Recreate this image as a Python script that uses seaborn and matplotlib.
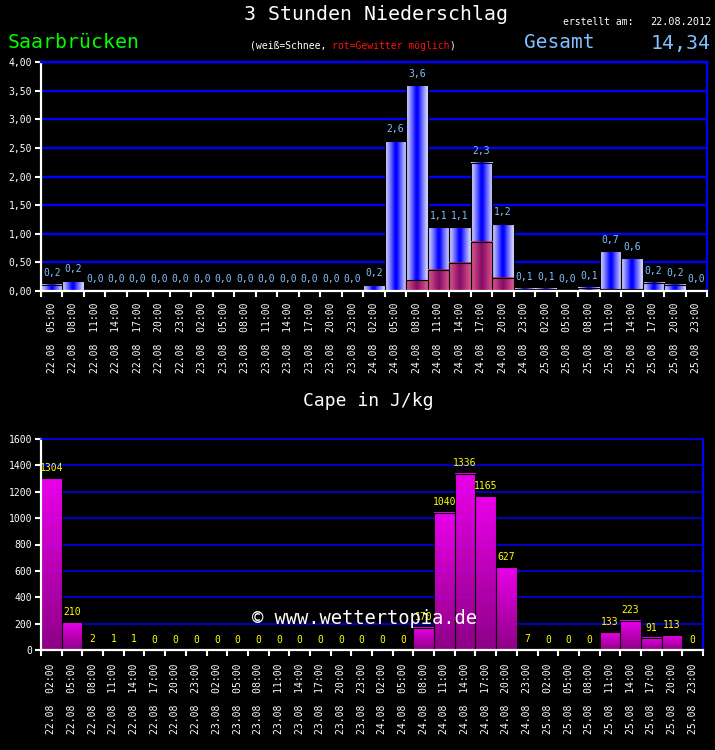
import numpy as np
import pandas as pd
import matplotlib
matplotlib.use("Agg")
import matplotlib.pyplot as plt
import seaborn as sns
from matplotlib.colors import LinearSegmentedColormap

# ---------------- data ----------------
hours = ["02:00", "05:00", "08:00", "11:00", "14:00", "17:00", "20:00", "23:00"]

precip_dates = (["22.08"] * 7 + ["23.08"] * 8 + ["24.08"] * 8 + ["25.08"] * 8)
precip_times = hours[1:] + hours + hours + hours
precip_total = [0.11, 0.17, 0, 0, 0, 0, 0,
                0, 0, 0, 0, 0, 0, 0, 0,
                0.10, 2.62, 3.59, 1.11, 1.11, 2.24, 1.17, 0.04,
                0.04, 0, 0.06, 0.69, 0.57, 0.14, 0.11, 0]
precip_thunder = [0, 0, 0, 0, 0, 0, 0,
                  0, 0, 0, 0, 0, 0, 0, 0,
                  0, 0, 0.19, 0.37, 0.49, 0.86, 0.23, 0,
                  0, 0, 0, 0.03, 0.03, 0, 0, 0]
precip_labels = [0.2, 0.2, 0.0, 0.0, 0.0, 0.0, 0.0,
                 0.0, 0.0, 0.0, 0.0, 0.0, 0.0, 0.0, 0.0,
                 0.2, 2.6, 3.6, 1.1, 1.1, 2.3, 1.2, 0.1,
                 0.1, 0.0, 0.1, 0.7, 0.6, 0.2, 0.2, 0.0]

cape_dates = (["22.08"] * 8 + ["23.08"] * 8 + ["24.08"] * 8 + ["25.08"] * 8)
cape_times = hours + hours + hours + hours
cape_values = [1304, 210, 2, 1, 1, 0, 0, 0,
               0, 0, 0, 0, 0, 0, 0, 0,
               0, 0, 170, 1040, 1336, 1165, 627, 7,
               0, 0, 0, 133, 223, 91, 113, 0]

precip_yticks = [0, 0.5, 1.0, 1.5, 2.0, 2.5, 3.0, 3.5, 4.0]
cape_yticks = [0, 200, 400, 600, 800, 1000, 1200, 1400, 1600]

# ---------------- style ----------------
MONO = "DejaVu Sans Mono"
plt.rcParams["font.family"] = [MONO, "DejaVu Sans"]
LIGHTBLUE = "#80c0ff"

blue_cmap = LinearSegmentedColormap.from_list(
    "b", [(0, "#0000ff"), (0.2, "#0c0cff"), (0.5, "#5a5aff"),
          (0.8, "#a8a8ff"), (1, "#e0e0ff")])
red_cmap = LinearSegmentedColormap.from_list(
    "r", [(0, "#840a64"), (0.35, "#9a1e70"), (0.75, "#c2407e"),
          (1, "#dc5a92")])
mag_cmap = LinearSegmentedColormap.from_list(
    "m", [(0, "#9c0092"), (1, "#ff00ff")])

fig = plt.figure(figsize=(7.15, 7.5), dpi=100, facecolor="black")


def grad_fill(ax, patch, cmap, mode, z, alpha=1.0):
    x0, y0 = patch.get_x(), patch.get_y()
    w, h = patch.get_width(), patch.get_height()
    if h <= 0:
        patch.set_visible(False)
        return
    if mode == "h":
        g = (np.abs(np.linspace(-1, 1, 43)) ** 0.8)[None, :]
    else:
        g = np.linspace(0, 1, 101)[:, None]
    ax.imshow(g, cmap=cmap, extent=(x0, x0 + w, y0, y0 + h), origin="lower",
              aspect="auto", interpolation="bilinear", zorder=z, alpha=alpha,
              vmin=0, vmax=1)
    patch.set_facecolor("none")
    patch.set_zorder(z + 0.01)


def style_axes(ax, yticks, yfmt, gridw, n, dates, times, pad):
    ax.set_facecolor("black")
    ax.set_xlim(-0.5, n - 0.5)
    ax.set_ylim(yticks[0], yticks[-1])
    ax.set_yticks(yticks)
    ax.set_yticklabels([yfmt(v) for v in yticks], color="white", fontsize=7,
                       family=MONO)
    for v in yticks[1:]:
        ax.axhline(v, color="#0000ff", lw=gridw, zorder=1)
    ax.spines["left"].set_color("white")
    ax.spines["left"].set_linewidth(1.6)
    ax.spines["bottom"].set_color("white")
    ax.spines["bottom"].set_linewidth(1.6)
    ax.spines["right"].set_color("#0000ff")
    ax.spines["right"].set_linewidth(1.6)
    ax.spines["top"].set_color("#0000ff")
    ax.spines["top"].set_linewidth(gridw)
    for s in ax.spines.values():
        s.set_zorder(5)
    ax.tick_params(axis="y", colors="white", length=4, width=1.5, pad=2.5)
    ax.set_xticks(range(n))
    ax.set_xticklabels([f"{d}  {t}" for d, t in zip(dates, times)],
                       rotation=90, color="white", fontsize=7, family=MONO)
    ax.tick_params(axis="x", which="major", length=0, pad=pad)
    ax.set_xticks(np.arange(-0.5, n, 1), minor=True)
    ax.tick_params(axis="x", which="minor", length=4, width=1.5, color="white",
                   direction="out")
    ax.set_xlabel("")
    ax.set_ylabel("")


# ---------------- top chart: precipitation ----------------
n1 = len(precip_total)
slots1 = [f"{d} {t}" for d, t in zip(precip_dates, precip_times)]
df1 = pd.DataFrame({"slot": slots1, "total": precip_total,
                    "thunder": precip_thunder})

ax1 = fig.add_axes([41 / 715, 1 - 291 / 750, 666 / 715, 229 / 750])
sns.barplot(data=df1, x="slot", y="total", order=slots1, color="#0000ff",
            width=1.0, edgecolor="black", linewidth=0.8, errorbar=None, ax=ax1)
nb = len(ax1.patches)
sns.barplot(data=df1, x="slot", y="thunder", order=slots1, color="#a02070",
            width=1.0, edgecolor="black", linewidth=0.8, errorbar=None, ax=ax1)
patches = list(ax1.patches)
for p in patches[:nb]:
    grad_fill(ax1, p, blue_cmap, "h", 2)
for p in patches[nb:]:
    grad_fill(ax1, p, red_cmap, "h", 3)

for i, (v, lab) in enumerate(zip(precip_total, precip_labels)):
    ax1.annotate(f"{lab:.1f}".replace(".", ","), (i, v), xytext=(0, 8.5),
                 textcoords="offset points", ha="center", va="center",
                 color=LIGHTBLUE, fontsize=7, family=MONO, zorder=6)

style_axes(ax1, precip_yticks, lambda v: f"{v:.2f}".replace(".", ","), 1.7,
           n1, precip_dates, precip_times, 8)

# ---------------- bottom chart: CAPE ----------------
n2 = len(cape_values)
slots2 = [f"{d} {t}" for d, t in zip(cape_dates, cape_times)]
df2 = pd.DataFrame({"slot": slots2, "cape": cape_values})

ax2 = fig.add_axes([41 / 715, 1 - 650 / 750, 662 / 715, 211 / 750])
sns.barplot(data=df2, x="slot", y="cape", order=slots2, color="#ff00ff",
            width=1.0, edgecolor="black", linewidth=0.8, errorbar=None, ax=ax2)
for p in list(ax2.patches):
    grad_fill(ax2, p, mag_cmap, "v", 2, alpha=0.92)

for i, v in enumerate(cape_values):
    ax2.annotate(f"{v}", (i, v), xytext=(0, 7.5), textcoords="offset points",
                 ha="center", va="center", color="#ffff00", fontsize=7,
                 family=MONO, zorder=6)

style_axes(ax2, cape_yticks, lambda v: f"{v}", 1.1, n2, cape_dates,
           cape_times, 9.5)

# ---------------- texts ----------------
fig.text(376 / 715, 1 - 15 / 750, "3 Stunden Niederschlag", color="white",
         fontsize=14.3, ha="center", va="center", family=MONO)
fig.text(563 / 715, 1 - 22 / 750, "erstellt am:", color="white", fontsize=7,
         ha="left", va="center", family=MONO)
fig.text(711 / 715, 1 - 22 / 750, "22.08.2012", color="white", fontsize=7.3,
         ha="right", va="center", family=MONO)
fig.text(8 / 715, 1 - 43 / 750, "Saarbrücken", color="#00ff00", fontsize=14.3,
         ha="left", va="center", family=MONO)
cw = 0.602 * 7 * 100 / 72  # character advance in px
x0 = 250
part1 = "(weiß=Schnee, "
part2 = "rot=Gewitter möglich"
fig.text(x0 / 715, 1 - 46 / 750, part1, color="white", fontsize=7,
         ha="left", va="center", family=MONO)
fig.text((x0 + len(part1) * cw) / 715, 1 - 46 / 750, part2, color="#ff1010",
         fontsize=7, ha="left", va="center", family=MONO)
fig.text((x0 + (len(part1) + len(part2)) * cw) / 715, 1 - 46 / 750, ")",
         color="white", fontsize=7, ha="left", va="center", family=MONO)
fig.text(524 / 715, 1 - 43 / 750, "Gesamt", color=LIGHTBLUE, fontsize=14,
         ha="left", va="center", family=MONO)
fig.text(711 / 715, 1 - 43 / 750, "14,34", color=LIGHTBLUE, fontsize=14.3,
         ha="right", va="center", family=MONO)
fig.text(368 / 715, 1 - 401 / 750, "Cape in J/kg", color="white", fontsize=13,
         ha="center", va="center", family=MONO)
fig.text(365 / 715, 1 - 619 / 750, "© www.wettertopia.de", color="white",
         fontsize=13.5, ha="center", va="center", family=MONO, zorder=10)

fig.savefig("out.png", dpi=100, facecolor="black")
